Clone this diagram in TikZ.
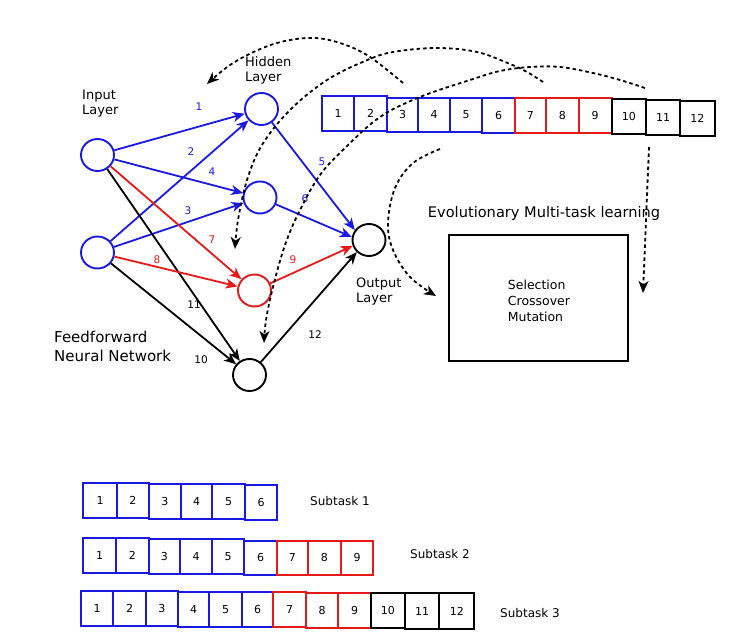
\documentclass[tikz,border=0pt]{standalone}
\usepackage{fontspec}
\setmainfont{DejaVu Sans}
\usetikzlibrary{arrows.meta,shapes.geometric}
\definecolor{nblue}{RGB}{25,25,225}
\definecolor{nred}{RGB}{230,25,25}
\newcommand\genebox[7]{\node[gene,draw=#2,minimum width={(#5-#3)*1pt},minimum height={(#6-#4)*1pt}] (#1) at ({(#3+#5)/2},{(#4+#6)/2}) {#7};}
\begin{document}
\begin{tikzpicture}[x=1pt,y=-1pt,
  neuron/.style={ellipse,draw,line width=1.9pt,minimum width=33pt,minimum height=32pt,inner sep=0pt},
  conn/.style={line width=1.8pt,-{Stealth[length=12pt,width=10pt,inset=3.5pt]}},
  gene/.style={rectangle,line width=1.9pt,inner sep=0pt,outer sep=0pt,font=\fontsize{11}{13}\selectfont},
  elab/.style={inner sep=0pt,font=\fontsize{10.5}{12}\selectfont},
  lbl/.style={inner sep=0pt,align=left,anchor=west},
  dsh/.style={line width=1.8pt,dash pattern=on 3.5pt off 3pt,-{Stealth[length=12pt,width=10pt,inset=3.5pt]}}]
\useasboundingbox (0,0) rectangle (730,636);

% neurons
\node[neuron,draw=nblue] (i1) at (97.5,155) {};
\node[neuron,draw=nblue] (i2) at (97.5,252.5) {};
\node[neuron,draw=nblue] (h1) at (261.5,109) {};
\node[neuron,draw=nblue] (h2) at (260,197.5) {};
\node[neuron,draw=nred] (h3) at (254.5,290.5) {};
\node[neuron,draw=black] (h4) at (249.5,375) {};
\node[neuron,draw=black] (o) at (369,240) {};

% connections
\draw[conn,nblue] (i1) -- (h1);
\draw[conn,nblue] (i2) -- (h1);
\draw[conn,nblue] (i1) -- (h2);
\draw[conn,nblue] (i2) -- (h2);
\draw[conn,black] (i1) -- (h4);
\draw[conn,black] (i2) -- (h4);
\draw[conn,nred] (i1) -- (h3);
\draw[conn,nred] (i2) -- (h3);
\draw[conn,nblue] (h1) -- (o.145);
\draw[conn,nblue] (h2) -- (o.170);
\draw[conn,nred] (h3) -- (o.200);
\draw[conn,black] (h4) -- (o.225);

% edge labels
\node[elab,text=nblue] (l1) at (199,107) {1};
\node[elab,text=nblue] (l2) at (191,152) {2};
\node[elab,text=nblue] (l3) at (188,211) {3};
\node[elab,text=nblue] (l4) at (212,172) {4};
\node[elab,text=nblue] (l5) at (322,162) {5};
\node[elab,text=nblue] (l6) at (305,199) {6};
\node[elab,text=nred] (l7) at (212,240) {7};
\node[elab,text=nred] (l8) at (157,260) {8};
\node[elab,text=nred] (l9) at (293,260) {9};
\node[elab] (l10) at (201,360) {10};
\node[elab] (l11) at (194,305) {11};
\node[elab] (l12) at (315,335) {12};

% layer labels
\node[lbl,font=\fontsize{13}{15.5}\selectfont] (inl) at (82,103.5) {Input\\Layer};
\node[lbl,font=\fontsize{13}{15.5}\selectfont] (hidl) at (245,70.5) {Hidden\\Layer};
\node[lbl,font=\fontsize{13}{15.5}\selectfont] (outl) at (356,291.5) {Output\\Layer};
\node[lbl,font=\fontsize{15}{19}\selectfont] (ffl) at (54,346.5) {Feedforward\\Neural Network};

% top chromosome
\genebox{t1}{nblue}{321.7}{96}{354.3}{130.7}{1}
\genebox{t2}{nblue}{354.3}{96}{386.7}{130.7}{2}
\genebox{t3}{nblue}{386.7}{97.7}{418.3}{132}{3}
\genebox{t4}{nblue}{418.3}{97.7}{450}{132}{4}
\genebox{t5}{nblue}{450}{97.7}{482.3}{132}{5}
\genebox{t6}{nblue}{482.3}{98.3}{515}{133.3}{6}
\genebox{t7}{nred}{514.7}{98.3}{546}{133.3}{7}
\genebox{t8}{nred}{546}{98.3}{578.7}{133.3}{8}
\genebox{t9}{nred}{578.7}{98.3}{611.7}{133.3}{9}
\genebox{t10}{black}{611.7}{99.3}{646}{134}{10}
\genebox{t11}{black}{646}{100}{680}{134.7}{11}
\genebox{t12}{black}{680}{100.7}{714.7}{135.7}{12}

% evolutionary block
\node[inner sep=0pt,font=\fontsize{14.6}{17}\selectfont] (evol) at (544,213) {Evolutionary Multi-task learning};
\node[draw,line width=1.9pt,minimum width=179.5pt,minimum height=126.5pt,inner sep=0pt] (ga) at (538.5,298) {};
\node[lbl,font=\fontsize{12.5}{16}\selectfont] (gops) at (507.7,301) {Selection\\Crossover\\Mutation};

% dashed arrows
\coordinate (sA) at (403,83);  \coordinate (eA) at (207,84);
\coordinate (sB) at (543,82);  \coordinate (eB) at (235,249);
\coordinate (sC) at (645,88);  \coordinate (eC) at (264,343);
\coordinate (sD) at (440,149); \coordinate (eD) at (436,296);
\coordinate (sE) at (649,147); \coordinate (eE) at (643,293);
\draw[dsh] plot[smooth,tension=0.6] coordinates {(sA) (370,57) (343,44) (315,38) (285,41) (258,50) (230,65) (eA)};
\draw[dsh] plot[smooth,tension=0.6] coordinates {(sB) (527,72) (510,64) (477,52) (437,48) (393,52) (365,61) (327,80) (290,110) (262,145) (247,180) (238,220) (eB)};
\draw[dsh] plot[smooth,tension=0.6] coordinates {(sC) (620,80) (593,73) (560,67) (530,67) (500,71) (470,80) (420,97) (380,117) (345,148) (320,175) (300,210) (285,245) (273,287) (266,320) (eC)};
\draw[dsh] plot[smooth,tension=0.6] coordinates {(sD) (413,163) (395,188) (388,223) (393,250) (410,277) (eD)};
\draw[dsh] (sE) -- (eE);

% subtask 1
\genebox{a1}{nblue}{83.3}{483.3}{116.7}{517.7}{1}
\genebox{a2}{nblue}{116.7}{483.3}{149}{517.7}{2}
\genebox{a3}{nblue}{149}{484}{180.7}{519}{3}
\genebox{a4}{nblue}{180.7}{484}{212.3}{519}{4}
\genebox{a5}{nblue}{212.3}{484.3}{245}{519}{5}
\genebox{a6}{nblue}{245}{485.3}{277.3}{520}{6}
\node[lbl,font=\fontsize{12}{14}\selectfont] (st1) at (310,500.7) {Subtask 1};

% subtask 2
\genebox{b1}{nblue}{83.3}{538.3}{116}{573.3}{1}
\genebox{b2}{nblue}{116}{538.3}{148.7}{573.3}{2}
\genebox{b3}{nblue}{148.7}{539.3}{180}{574.3}{3}
\genebox{b4}{nblue}{180}{539.3}{212}{574.3}{4}
\genebox{b5}{nblue}{212}{539.3}{244.3}{574.3}{5}
\genebox{b6}{nblue}{244.3}{540.7}{276.7}{575}{6}
\genebox{b7}{nred}{276.7}{540.7}{308}{575}{7}
\genebox{b8}{nred}{308}{540.7}{340.7}{575}{8}
\genebox{b9}{nred}{340.7}{540.7}{373.3}{575}{9}
\node[lbl,font=\fontsize{12}{14}\selectfont] (st2) at (410,554) {Subtask 2};

% subtask 3
\genebox{c1}{nblue}{81}{591}{113.3}{625.7}{1}
\genebox{c2}{nblue}{113.3}{591}{146}{625.7}{2}
\genebox{c3}{nblue}{146}{591}{177.7}{625.7}{3}
\genebox{c4}{nblue}{177.7}{591.7}{209.3}{626.7}{4}
\genebox{c5}{nblue}{209.3}{591.7}{241.7}{626.7}{5}
\genebox{c6}{nblue}{241.7}{591.7}{273.3}{626.7}{6}
\genebox{c7}{nred}{273.3}{591.7}{306}{627.3}{7}
\genebox{c8}{nred}{306}{592.7}{338.3}{628.3}{8}
\genebox{c9}{nred}{338.3}{592.7}{370.7}{628.3}{9}
\genebox{c10}{black}{370.7}{592.7}{405}{628.3}{10}
\genebox{c11}{black}{405}{593.3}{439.3}{629}{11}
\genebox{c12}{black}{439.3}{593.3}{474.3}{629}{12}
\node[lbl,font=\fontsize{12}{14}\selectfont] (st3) at (500,613) {Subtask 3};
\end{tikzpicture}
\end{document}
